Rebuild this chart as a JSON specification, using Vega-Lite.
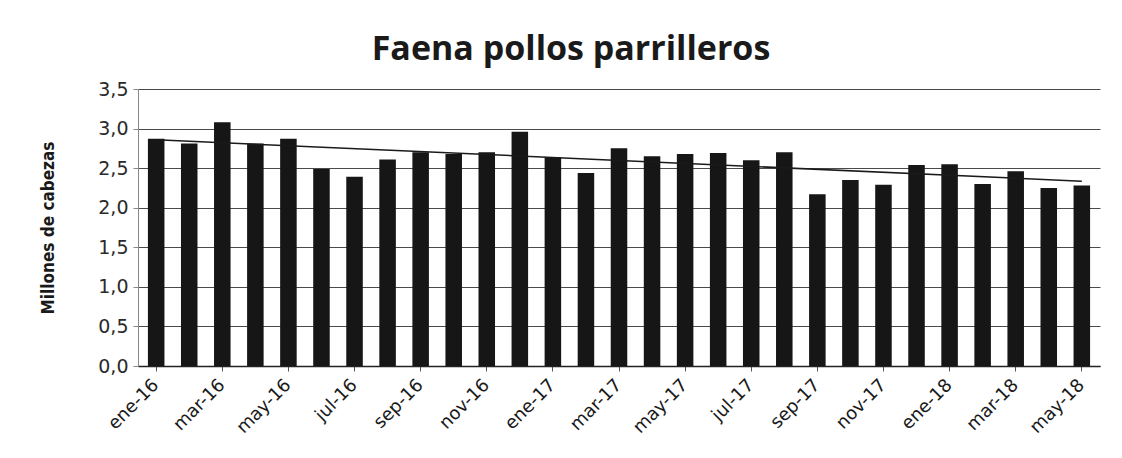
{
  "$schema": "https://vega.github.io/schema/vega-lite/v6.json",
  "width": 962,
  "height": 277,
  "autosize": {"type": "none"},
  "padding": {"left": 138, "top": 89, "right": 22, "bottom": 92},
  "background": "#ffffff",
  "config": {
    "view": {"stroke": null},
    "font": "DejaVu Sans"
  },
  "title": {
    "text": "Faena pollos parrilleros",
    "font": "Open Sans",
    "fontSize": 34,
    "fontWeight": "bold",
    "color": "#1a1a1a",
    "anchor": "middle",
    "dx": -48,
    "offset": 13
  },
  "datasets": {
    "meses": [
      {"i": 0, "mes": "ene-16", "v": 2.87},
      {"i": 1, "mes": "feb-16", "v": 2.81},
      {"i": 2, "mes": "mar-16", "v": 3.08},
      {"i": 3, "mes": "abr-16", "v": 2.81},
      {"i": 4, "mes": "may-16", "v": 2.87},
      {"i": 5, "mes": "jun-16", "v": 2.49},
      {"i": 6, "mes": "jul-16", "v": 2.39},
      {"i": 7, "mes": "ago-16", "v": 2.61},
      {"i": 8, "mes": "sep-16", "v": 2.70},
      {"i": 9, "mes": "oct-16", "v": 2.68},
      {"i": 10, "mes": "nov-16", "v": 2.70},
      {"i": 11, "mes": "dic-16", "v": 2.96},
      {"i": 12, "mes": "ene-17", "v": 2.64},
      {"i": 13, "mes": "feb-17", "v": 2.44},
      {"i": 14, "mes": "mar-17", "v": 2.75},
      {"i": 15, "mes": "abr-17", "v": 2.65},
      {"i": 16, "mes": "may-17", "v": 2.68},
      {"i": 17, "mes": "jun-17", "v": 2.69},
      {"i": 18, "mes": "jul-17", "v": 2.60},
      {"i": 19, "mes": "ago-17", "v": 2.70},
      {"i": 20, "mes": "sep-17", "v": 2.17},
      {"i": 21, "mes": "oct-17", "v": 2.35},
      {"i": 22, "mes": "nov-17", "v": 2.29},
      {"i": 23, "mes": "dic-17", "v": 2.54},
      {"i": 24, "mes": "ene-18", "v": 2.55},
      {"i": 25, "mes": "feb-18", "v": 2.30},
      {"i": 26, "mes": "mar-18", "v": 2.46},
      {"i": 27, "mes": "abr-18", "v": 2.25},
      {"i": 28, "mes": "may-18", "v": 2.28}
    ]
  },
  "data": {"name": "meses"},
  "encoding": {
    "x": {
      "field": "mes",
      "type": "ordinal",
      "sort": {"field": "i", "op": "min"},
      "scale": {"paddingInner": 0.5, "paddingOuter": 0.3},
      "axis": {
        "title": null,
        "values": ["ene-16", "mar-16", "may-16", "jul-16", "sep-16", "nov-16", "ene-17", "mar-17", "may-17", "jul-17", "sep-17", "nov-17", "ene-18", "mar-18", "may-18"],
        "labelAngle": -45,
        "labelAlign": "right",
        "labelBaseline": "middle",
        "labelFont": "DejaVu Sans",
        "labelFontSize": 18,
        "labelColor": "#1a1a1a",
        "labelPadding": 11,
        "domainColor": "#222222",
        "domainWidth": 1.5,
        "tickColor": "#555555",
        "tickSize": 5,
        "grid": false
      }
    },
    "y": {
      "field": "v",
      "type": "quantitative",
      "scale": {"domain": [0, 3.5], "nice": false},
      "axis": {
        "title": "Millones de cabezas",
        "titleFont": "DejaVu Sans Condensed",
        "titleFontSize": 17,
        "titleFontWeight": "bold",
        "titleColor": "#1a1a1a",
        "titlePadding": 40,
        "values": [0, 0.5, 1, 1.5, 2, 2.5, 3, 3.5],
        "labelExpr": "replace(format(datum.value, '.1f'), '.', ',')",
        "labelFont": "DejaVu Sans",
        "labelFontSize": 19,
        "labelColor": "#2a2a2a",
        "labelPadding": 5,
        "labelOverlap": false,
        "domainColor": "#888888",
        "tickColor": "#888888",
        "tickSize": 5,
        "grid": true,
        "gridColor": "#4a4a4a",
        "gridWidth": 1
      }
    }
  },
  "layer": [
    {
      "mark": {"type": "bar", "color": "#161616"}
    },
    {
      "transform": [
        {"regression": "v", "on": "i"},
        {"lookup": "i", "from": {"data": {"name": "meses"}, "key": "i", "fields": ["mes"]}}
      ],
      "mark": {"type": "line", "color": "#1a1a1a", "strokeWidth": 1.5}
    }
  ]
}
